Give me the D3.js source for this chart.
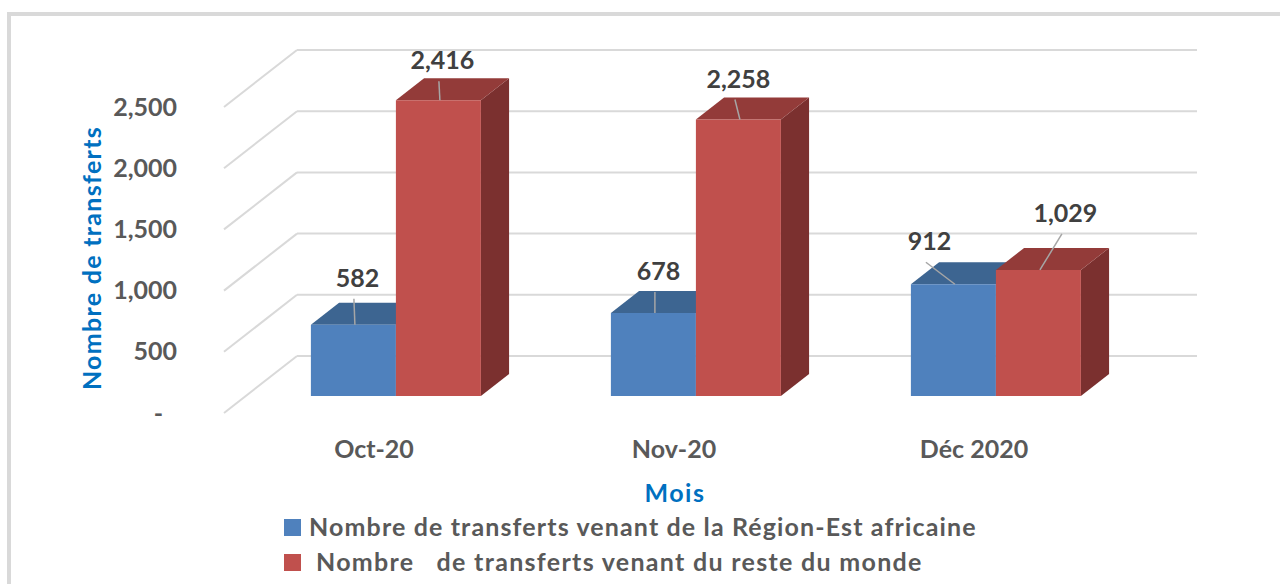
<!DOCTYPE html>
<html>
<head>
<meta charset="utf-8">
<script src="https://cdn.jsdelivr.net/npm/d3@7"></script>
<style>
  body { margin: 0; background: #fff; }
  svg { display: block; font-family: Lato, 'Open Sans', sans-serif; font-weight: bold; }
</style>
</head>
<body>
<svg></svg>
<script>
let categories = ['Oct-20', 'Nov-20', 'Déc 2020']
let seriesNames = ['Nombre de transferts venant de la Région-Est africaine', 'Nombre   de transferts venant du reste du monde']
let regionEstValues = [582, 678, 912]
let resteMondeValues = [2416, 2258, 1029]
let yTicks = [0, 500, 1000, 1500, 2000, 2500]

// hand placement of the data labels, as in the original
let labelNudges = [
    [[4, -38], [5, -33], [-24, -34]],
    [[4, -31], [0, -32], [27, -48]]
]

let width = 1280
let height = 584
let depthX = 73
let depthY = -57
let barFront = 0.3
let barBack = 0.686

let fronts = ['#4F81BD', '#C0504D']
let tops = ['#3D6591', '#933B39']
let sides = ['#345679', '#7B302F']

let svg = d3.select('svg')
svg.attr('width', width).attr('height', height)

let xScale = d3.scaleBand().domain(categories).range([224, 1124])
let seriesScale = d3.scaleBand().domain([0, 1]).range([-85, 85])
let yScale = d3.scaleLinear().domain([0, 2500]).range([413, 107])

let project = (x, depth, value) => [x + depth * depthX, yScale(value) + depth * depthY]

let drawFrame = () => {
    svg.append('rect')
       .attr('x', 9).attr('y', 14)
       .attr('width', 1400).attr('height', 1000)
       .attr('fill', 'none')
       .attr('stroke', '#D9D9D9')
       .attr('stroke-width', 4)
}

let drawGrid = () => {
    let grid = svg.append('g').attr('stroke', '#D9D9D9').attr('stroke-width', 2)
    yTicks.forEach(v => {
        let f = project(224, 0, v)
        let b = project(224, 1, v)
        grid.append('line')
            .attr('x1', f[0]).attr('y1', f[1])
            .attr('x2', b[0]).attr('y2', b[1])
        grid.append('line')
            .attr('x1', b[0]).attr('y1', b[1])
            .attr('x2', 1124 + depthX).attr('y2', b[1])
    })
}

let drawBars = () => {
    let series = [regionEstValues, resteMondeValues]
    categories.forEach((cat, i) => {
        series.forEach((values, s) => {
            let x0 = xScale(cat) + xScale.bandwidth() / 2 + seriesScale(s)
            let x1 = x0 + seriesScale.bandwidth()
            let v = values[i]
            let fbl = project(x0, barFront, 0)
            let ftl = project(x0, barFront, v)
            let ftr = project(x1, barFront, v)
            let fbr = project(x1, barFront, 0)
            let btl = project(x0, barBack, v)
            let btr = project(x1, barBack, v)
            let bbr = project(x1, barBack, 0)

            svg.append('polygon')
               .attr('points', [fbr, ftr, btr, bbr].join(' '))
               .attr('fill', sides[s])
            svg.append('polygon')
               .attr('points', [ftl, ftr, btr, btl].join(' '))
               .attr('fill', tops[s])
            svg.append('polygon')
               .attr('points', [fbl, ftl, ftr, fbr].join(' '))
               .attr('fill', fronts[s])
        })
    })

    // labels after all bars so nothing covers them
    categories.forEach((cat, i) => {
        series.forEach((values, s) => {
            let x0 = xScale(cat) + xScale.bandwidth() / 2 + seriesScale(s)
            let top = project(x0 + seriesScale.bandwidth() / 2, barFront, values[i])
            let nudge = labelNudges[s][i]
            let ax = top[0] + nudge[0]
            let ay = top[1] + nudge[1]
            svg.append('line')
               .attr('x1', ax - 3.5).attr('y1', ay + 12)
               .attr('x2', top[0] + 1.5).attr('y2', top[1])
               .attr('stroke', '#A6A6A6')
               .attr('stroke-width', 1.5)
            svg.append('text')
               .attr('x', ax).attr('y', ay)
               .attr('text-anchor', 'middle')
               .attr('font-size', 25)
               .attr('fill', '#404040')
               .text(d3.format(',')(values[i]))
        })
    })
}

let drawAxes = () => {
    let yAxis = d3.axisLeft(yScale)
                  .tickValues(yTicks)
                  .tickSize(0)
                  .tickPadding(0)
                  .tickFormat(v => v === 0 ? '-' : d3.format(',')(v))
    let gy = svg.append('g')
       .attr('transform', 'translate(177, 0)')
       .call(yAxis)
    gy.select('.domain').remove()
    gy.selectAll('text')
      .attr('font-family', null)
      .attr('font-size', 25)
      .attr('fill', '#595959')
      .attr('dx', v => v === 0 ? -14 : 0)
    gy.attr('font-family', null).attr('font-size', null)

    let xAxis = d3.axisBottom(xScale).tickSize(0).tickPadding(27)
    let gx = svg.append('g')
       .attr('transform', 'translate(0, 413)')
       .call(xAxis)
    gx.select('.domain').remove()
    gx.attr('font-family', null).attr('font-size', null)
    gx.selectAll('text')
      .attr('font-size', 25)
      .attr('fill', '#595959')

    svg.append('text')
       .attr('transform', 'translate(101, 258) rotate(-90)')
       .attr('text-anchor', 'middle')
       .attr('font-size', 25)
       .attr('letter-spacing', 1.3)
       .attr('fill', '#0070C0')
       .text('Nombre de transferts')

    svg.append('text')
       .attr('x', 675).attr('y', 502)
       .attr('text-anchor', 'middle')
       .attr('font-size', 25)
       .attr('letter-spacing', 1.5)
       .attr('fill', '#0070C0')
       .text('Mois')
}

let drawLegend = () => {
    let legend = svg.append('g')
    seriesNames.forEach((name, s) => {
        let y = 519 + s * 35
        legend.append('rect')
              .attr('x', 284).attr('y', y)
              .attr('width', 17).attr('height', 17)
              .attr('fill', fronts[s])
        legend.append('text')
              .attr('x', s === 0 ? 309 : 316).attr('y', y + 17)
              .attr('font-size', 25)
              .attr('letter-spacing', s === 0 ? 1.13 : 1.3)
              .attr('fill', '#595959')
              .style('white-space', 'pre')
              .text(name)
    })
}

drawFrame()
drawGrid()
drawBars()
drawAxes()
drawLegend()
</script>
</body>
</html>
